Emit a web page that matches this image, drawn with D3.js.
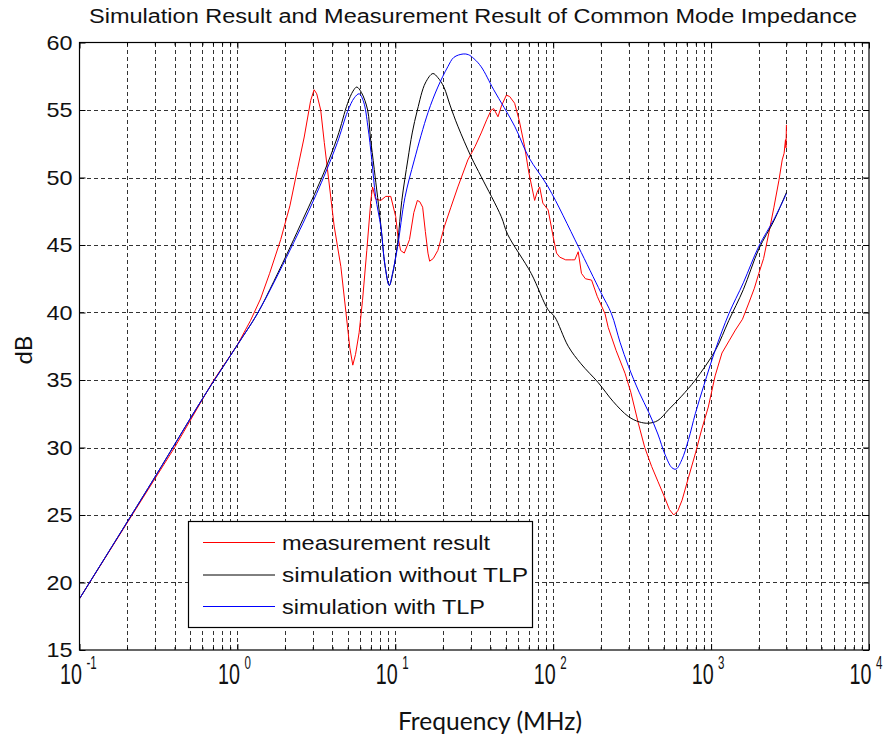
<!DOCTYPE html>
<html>
<head>
<meta charset="utf-8">
<script src="https://cdn.jsdelivr.net/npm/d3@7/dist/d3.min.js"></script>
<style>
  body { margin: 0; background: #fff; }
  svg { display: block; }
</style>
</head>
<body>
<script>
// ---- chart text ----
const titleText = "Simulation Result and Measurement Result of Common Mode Impedance";
const xLabelText = "Frequency (MHz)";
const yLabelText = "dB";
const seriesNames = ["measurement result", "simulation without TLP", "simulation with TLP"];
const seriesColors = ["#ff0000", "#000000", "#0000ff"];

// ---- axis ticks ----
const yTicks = [15, 20, 25, 30, 35, 40, 45, 50, 55, 60];
const xDecades = [-1, 0, 1, 2, 3, 4];

// ---- measurement result (frequency in MHz, impedance in dB) ----
const measFreq = [0.1, 0.2, 0.4, 0.7, 1.0, 1.21, 1.4, 1.6, 1.88, 2.15, 2.4, 2.65, 2.91, 3.06, 3.18, 3.37, 3.55, 3.72,
  4.1, 4.52, 4.87, 5.15, 5.38, 5.6, 5.9, 6.2, 6.6, 7.0, 7.18, 7.5, 8.09, 8.7, 9.36, 10.06, 10.4, 10.8, 11.4, 12.3,
  13.1, 13.8, 14.3, 14.9, 15.5, 16.1, 16.5, 17.4, 18.6, 20.5, 22.5, 24.9, 28.8, 32, 35, 38, 40.5, 42, 44.7, 47,
  50.5, 53, 57, 61, 65.9, 70, 76.3, 79, 82.1, 86, 92.9, 100, 105, 110, 120, 130, 137, 144, 151, 160, 175, 190,
  213, 223, 250, 285, 310, 346, 380, 420, 460, 504, 545, 580, 615, 655, 720, 797, 870, 960, 1060, 1172, 1300,
  1425, 1580, 1733, 1880, 2006, 2150, 2322, 2500, 2690, 2820, 2900, 2958, 2980, 3000];
const measDb = [18.8, 24.4, 30.0, 34.9, 37.6, 39.4, 41.0, 42.9, 45.4, 47.9, 50.6, 53.0, 55.7, 56.5, 56.2, 55.0, 52.6, 50.6,
  46.4, 43.4, 40.0, 37.4, 36.1, 36.9, 38.5, 40.9, 44.6, 48.3, 49.3, 48.4, 48.3, 48.6, 48.6, 47.1, 45.6, 44.6, 44.4, 45.4,
  47.4, 48.3, 48.2, 47.8, 46.0, 44.4, 43.8, 44.0, 44.6, 46.4, 47.8, 49.3, 51.3, 52.3, 53.3, 54.3, 55.0, 55.1, 54.5, 55.3,
  56.1, 56.0, 55.5, 54.2, 52.3, 50.4, 48.3, 48.9, 49.3, 48.1, 47.6, 45.6, 44.4, 44.1, 43.9, 43.9, 43.9, 44.5, 42.9, 42.5, 42.4, 41.2,
  39.9, 38.9, 37.2, 35.5, 34.1, 31.8, 30.0, 28.6, 27.5, 26.4, 25.4, 25.0, 25.3, 26.1, 27.8, 29.6, 31.3, 33.0, 35.3, 37.0, 37.9,
  38.7, 39.5, 40.7, 41.8, 42.9, 44.0, 45.9, 47.8, 49.8, 51.3, 51.8, 52.8, 52.2, 53.9];

// ---- simulation without TLP ----
const simFreq = [0.1, 0.3, 0.6, 1.0, 1.336, 1.7, 2.17, 2.6, 3.06, 3.54, 4.3, 4.99, 5.4, 5.7, 6.1, 6.68, 6.95, 7.36,
  8.11, 8.6, 9.16, 9.6, 10.35, 11.0, 12.0, 12.8, 13.8, 15.5, 17.3, 18.6, 20.3, 22.3, 24.9, 30.3, 35.0, 46.9,
  51.4, 72.5, 92.9, 102, 124.5, 150, 193, 240, 299, 350, 402, 460, 538, 650, 794, 1064, 1294, 1600, 2005, 2500, 3000];
const simDb = [18.8, 27.8, 33.6, 37.6, 39.9, 42.3, 44.9, 46.9, 48.7, 50.4, 53.0, 55.5, 56.4, 56.7, 56.3, 55.0, 53.0, 50.6,
  46.4, 43.5, 42.0, 42.8, 45.2, 48.3, 51.3, 53.3, 55.0, 57.0, 57.7, 57.4, 56.7, 55.3, 53.8, 51.5, 50.06, 47.1,
  45.8, 42.9, 40.2, 39.7, 37.5, 36.2, 34.8, 33.4, 32.3, 31.9, 31.8, 32.0, 32.8, 33.8, 35.0, 37.2, 39.4, 41.7, 44.7, 46.8, 48.9];

// ---- simulation with TLP ----
const tlpFreq = [0.1, 0.3, 0.6, 1.0, 1.336, 1.7, 2.17, 2.6, 3.06, 3.54, 4.3, 4.99, 5.5, 5.9, 6.3, 6.7, 7.1, 7.5,
  8.11, 8.6, 9.16, 9.6, 10.35, 11.5, 13.2, 16.1, 18.6, 21.5, 23.5, 26.9, 29, 31.5, 35, 42, 57, 70, 92.9, 144,
  200, 234, 265, 300, 350, 403, 460, 510, 565, 600, 653, 720, 794, 900, 1061, 1295, 1600, 2005, 2500, 3000];
const tlpDb = [18.8, 27.8, 33.6, 37.6, 39.9, 42.2, 44.7, 46.6, 48.4, 50.1, 52.6, 54.9, 55.9, 56.2, 55.6, 53.8, 51.3, 48.6,
  46.3, 43.5, 42.0, 42.9, 44.9, 48.5, 51.3, 54.8, 56.7, 58.2, 58.9, 59.15, 59.1, 58.8, 58.2, 56.5, 53.8, 51.5, 49.3, 44.9,
  41.5, 39.9, 37.8, 36.0, 34.1, 32.6, 31.0, 29.5, 28.5, 28.4, 29.1, 30.6, 32.5, 34.6, 37.2, 39.9, 42.2, 44.9, 46.9, 48.8];

// ---- layout ----
const W = 888, H = 738;
const plotL = 79.5, plotR = 869, plotT = 42.5, plotB = 650;

const svg = d3.select("body").append("svg")
  .attr("width", W).attr("height", H)
  .style("font-family", "'Liberation Sans', Arial, sans-serif");

const x = d3.scaleLog().domain([0.1, 1e4]).range([plotL, plotR]);
const y = d3.scaleLinear().domain([15, 60]).range([plotB, plotT]);

const majorX = xDecades.map(d => Math.pow(10, d));
const allX = x.ticks();
const minorX = allX.filter(v => !majorX.some(m => Math.abs(v - m) / m < 1e-6));

// ---- dashed grid ----
const grid = svg.append("g")
  .attr("stroke", "#000").attr("stroke-width", 1)
  .attr("stroke-dasharray", "4,3").attr("stroke-opacity", 0.8)
  .attr("shape-rendering", "crispEdges");
grid.selectAll("line.gx")
  .data(allX.filter(v => v > 0.1 * 1.001 && v < 1e4 * 0.999))
  .join("line").attr("class", "gx")
  .attr("x1", d => Math.round(x(d)) + 0.5).attr("x2", d => Math.round(x(d)) + 0.5)
  .attr("y1", plotT).attr("y2", plotB);
grid.selectAll("line.gy")
  .data(yTicks.filter(v => v > 15 && v < 60))
  .join("line").attr("class", "gy")
  .attr("y1", d => Math.round(y(d)) + 0.5).attr("y2", d => Math.round(y(d)) + 0.5)
  .attr("x1", plotL).attr("x2", plotR);

// ---- curves ----
const series = [
  { f: measFreq, v: measDb, curve: d3.curveLinear },
  { f: simFreq, v: simDb, curve: d3.curveCatmullRom.alpha(0.5) },
  { f: tlpFreq, v: tlpDb, curve: d3.curveCatmullRom.alpha(0.5) }
];
series.forEach((s, i) => {
  const pts = s.f.map((f, k) => [f, s.v[k]]);
  const line = d3.line().x(d => x(d[0])).y(d => y(d[1])).curve(s.curve);
  svg.append("path")
    .attr("d", line(pts))
    .attr("fill", "none")
    .attr("stroke", seriesColors[i])
    .attr("stroke-width", 1)
    .attr("stroke-linejoin", "round");
});

// ---- axes: inward ticks on all four sides ----
function clean(g) { g.select(".domain").remove(); g.selectAll("text").remove(); }
svg.append("g").attr("transform", `translate(0,${plotB})`)
  .call(d3.axisBottom(x).tickValues(majorX).tickSizeInner(-6).tickSizeOuter(0)).call(clean);
svg.append("g").attr("transform", `translate(0,${plotB})`)
  .call(d3.axisBottom(x).tickValues(minorX).tickSizeInner(-3).tickSizeOuter(0)).call(clean);
svg.append("g").attr("transform", `translate(0,${plotT})`)
  .call(d3.axisTop(x).tickValues(majorX).tickSizeInner(-6).tickSizeOuter(0)).call(clean);
svg.append("g").attr("transform", `translate(0,${plotT})`)
  .call(d3.axisTop(x).tickValues(minorX).tickSizeInner(-3).tickSizeOuter(0)).call(clean);
svg.append("g").attr("transform", `translate(${plotL},0)`)
  .call(d3.axisLeft(y).tickValues(yTicks).tickSizeInner(-6).tickSizeOuter(0)).call(clean);
svg.append("g").attr("transform", `translate(${plotR},0)`)
  .call(d3.axisRight(y).tickValues(yTicks).tickSizeInner(-6).tickSizeOuter(0)).call(clean);

svg.append("rect")
  .attr("x", plotL).attr("y", plotT)
  .attr("width", plotR - plotL).attr("height", plotB - plotT)
  .attr("fill", "none").attr("stroke", "#000").attr("stroke-width", 1.2);

// ---- tick labels ----
svg.append("g").selectAll("text")
  .data(yTicks).join("text")
  .attr("x", 72.5).attr("y", d => y(d) + 7)
  .attr("text-anchor", "end")
  .attr("font-size", 21).attr("fill", "#111")
  .attr("textLength", 26).attr("lengthAdjust", "spacingAndGlyphs")
  .text(d => d);

// decade labels: tall narrow "10" with the exponent raised beside it
const xl = svg.append("g").attr("fill", "#111");
xDecades.forEach(d => {
  const px = x(Math.pow(10, d));
  xl.append("text")
    .attr("transform", `translate(${px + 2.5},684) scale(0.68,1)`)
    .attr("text-anchor", "end")
    .attr("font-size", 29)
    .text("10");
  xl.append("text")
    .attr("transform", `translate(${px + 7},669) scale(0.64,1)`)
    .attr("font-size", 18)
    .text(String(d));
});

// ---- title and axis labels ----
svg.append("text")
  .attr("x", 89).attr("y", 23.3)
  .attr("font-size", 19.5).attr("fill", "#111")
  .attr("textLength", 768).attr("lengthAdjust", "spacingAndGlyphs")
  .text(titleText);

svg.append("text")
  .attr("x", 398).attr("y", 730)
  .attr("font-family", "Lato, 'Open Sans', sans-serif")
  .attr("font-size", 25).attr("fill", "#111")
  .attr("textLength", 184).attr("lengthAdjust", "spacingAndGlyphs")
  .text(xLabelText);

svg.append("text")
  .attr("transform", "translate(32,350) rotate(-90)")
  .attr("text-anchor", "middle")
  .attr("font-family", "Lato, 'Open Sans', sans-serif")
  .attr("font-size", 24).attr("fill", "#111")
  .text(yLabelText);

// ---- legend ----
const lg = svg.append("g");
lg.append("rect")
  .attr("x", 188.5).attr("y", 521.5).attr("width", 344).attr("height", 106)
  .attr("fill", "#fff").attr("stroke", "#000").attr("stroke-width", 1.2);
const legendRows = [542.5, 575, 606.5];
const legendWidths = [208, 246, 203];
seriesNames.forEach((name, i) => {
  lg.append("line")
    .attr("x1", 203).attr("x2", 275)
    .attr("y1", legendRows[i]).attr("y2", legendRows[i])
    .attr("stroke", seriesColors[i]).attr("stroke-width", 1);
  lg.append("text")
    .attr("x", 282).attr("y", legendRows[i] + 7)
    .attr("font-size", 21).attr("fill", "#111")
    .attr("textLength", legendWidths[i]).attr("lengthAdjust", "spacingAndGlyphs")
    .text(name);
});
</script>
</body>
</html>
